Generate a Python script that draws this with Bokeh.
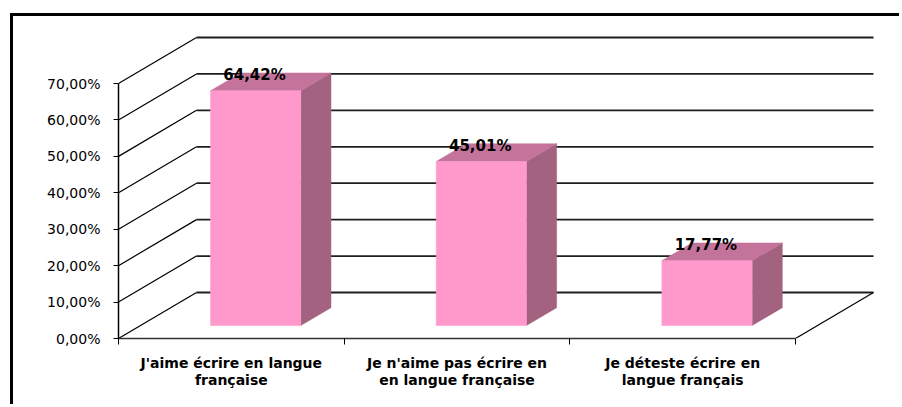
from bokeh.plotting import figure
from bokeh.models import FixedTicker, LinearAxis, Range1d
from bokeh.core.properties import value
from bokeh.embed import file_html
from bokeh.resources import INLINE

# ---- data ----
categories = [
    "J'aime écrire en langue\nfrançaise",
    "Je n'aime pas écrire en\nen langue française",
    "Je déteste écrire en\nlangue français",
]
values = [64.42, 45.01, 17.77]
value_labels = ["64,42%", "45,01%", "17,77%"]
y_ticks = [0, 10, 20, 30, 40, 50, 60, 70]
y_tick_labels = ["0,00%", "10,00%", "20,00%", "30,00%", "40,00%", "50,00%", "60,00%", "70,00%"]

# ---- 3D look parameters (oblique projection in data units) ----
DX, DY = 0.3456, 12.63      # full depth offset of the walls
D0, D1 = 0.283, 0.67        # bar front / back depth fractions
BAR_W, BAR_SHIFT = 0.40, 0.01
FRONT = "#FF99CC"
TOP = "#C4739B"
SIDE = "#A3627F"

n = len(values)

p = figure(width=889, height=391, output_backend="svg", toolbar_location=None,
           x_range=Range1d(0, 3.3589), y_range=Range1d(0, 85.1),
           x_axis_type=None, y_axis_type=None,
           min_border_left=105, min_border_right=26, min_border_top=12, min_border_bottom=69,
           styles={"margin-left": "10px", "margin-top": "13px",
                   "border-left": "3px solid black", "border-top": "3px solid black"})
p.grid.visible = False
p.outline_line_color = None
p.background_fill_color = "white"
p.border_fill_color = "white"

# walls: back gridlines and left-wall diagonals
p.segment(x0=[DX] * len(y_ticks), y0=[t + DY for t in y_ticks],
          x1=[n + DX] * len(y_ticks), y1=[t + DY for t in y_ticks],
          line_color="#1e1e1e", line_width=1.8)
p.segment(x0=[0] * len(y_ticks), y0=y_ticks,
          x1=[DX] * len(y_ticks), y1=[t + DY for t in y_ticks],
          line_color="black", line_width=1.2)
# floor right edge
p.segment(x0=[n], y0=[0], x1=[n + DX], y1=[DY], line_color="black", line_width=1.2)

# bars
lefts = [i + 0.5 + BAR_SHIFT - BAR_W / 2 for i in range(n)]
rights = [l + BAR_W for l in lefts]
ox0, oy0 = D0 * DX, D0 * DY
ox1, oy1 = D1 * DX, D1 * DY

top_xs = [[l + ox0, r + ox0, r + ox1, l + ox1] for l, r in zip(lefts, rights)]
top_ys = [[v + oy0, v + oy0, v + oy1, v + oy1] for v in values]
side_xs = [[r + ox0, r + ox1, r + ox1, r + ox0] for r in rights]
side_ys = [[oy0, oy1, v + oy1, v + oy0] for v in values]

p.patches(xs=side_xs, ys=side_ys, fill_color=SIDE, line_color=SIDE, line_width=0.5)
p.patches(xs=top_xs, ys=top_ys, fill_color=TOP, line_color=TOP, line_width=0.5)
p.quad(left=[l + ox0 for l in lefts], right=[r + ox0 for r in rights],
       bottom=[oy0] * n, top=[v + oy0 for v in values],
       fill_color=FRONT, line_color=FRONT, line_width=0.5)

# value labels
p.text(x=[(l + r) / 2 + ox0 - 0.005 for l, r in zip(lefts, rights)],
       y=[v + oy1 - 0.6 for v in values], text=value_labels,
       text_font=value("DejaVu Sans"), text_font_style="bold", text_font_size="15px",
       text_align="center", text_baseline="middle", text_color="black")

# axes
yaxis = LinearAxis(ticker=FixedTicker(ticks=y_ticks), bounds=(0, 70))
yaxis.major_label_overrides = {t: s for t, s in zip(y_ticks, y_tick_labels)}
yaxis.major_label_text_font = "DejaVu Sans"
yaxis.major_label_text_font_size = "14px"
yaxis.major_label_text_color = "black"
yaxis.major_label_standoff = 13
yaxis.major_tick_out = 5
yaxis.major_tick_in = 0
yaxis.major_tick_line_color = "black"
yaxis.minor_tick_line_color = None
yaxis.axis_line_color = "black"
yaxis.axis_line_width = 1.5
p.add_layout(yaxis, "left")

cat_pos = [i + 0.5 for i in range(n)]
xaxis = LinearAxis(ticker=FixedTicker(ticks=cat_pos, minor_ticks=list(range(n + 1))), bounds=(0, n))
xaxis.major_label_overrides = {c: s for c, s in zip(cat_pos, categories)}
xaxis.major_label_text_font = "DejaVu Sans"
xaxis.major_label_text_font_style = "bold"
xaxis.major_label_text_font_size = "14px"
xaxis.major_label_text_line_height = 1.1
xaxis.major_label_text_color = "black"
xaxis.major_label_standoff = 10
xaxis.major_tick_line_color = None
xaxis.major_tick_out = 0
xaxis.major_tick_in = 0
xaxis.minor_tick_out = 6
xaxis.minor_tick_in = 0
xaxis.minor_tick_line_color = "black"
xaxis.axis_line_color = "#333333"
xaxis.axis_line_width = 1.5
p.add_layout(xaxis, "below")

open("out.html", "w").write(file_html(p, INLINE))
